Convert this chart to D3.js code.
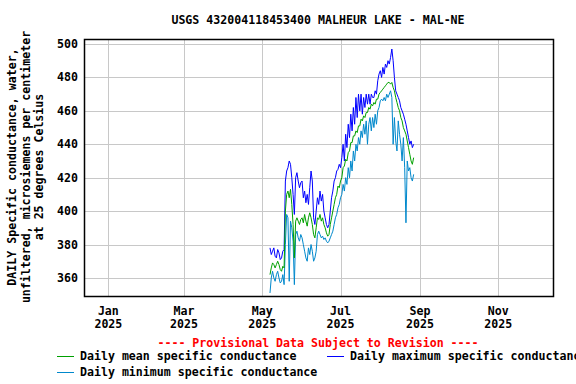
<!DOCTYPE html>
<html><head><meta charset="utf-8">
<script src="https://cdn.jsdelivr.net/npm/d3@7"></script>
<style>body{margin:0;background:#fff}svg{display:block}text{font-family:"DejaVu Sans Mono",monospace;font-weight:bold}</style>
</head><body><svg id="c" width="576" height="384"></svg>
<script>
const title = "USGS 432004118453400 MALHEUR LAKE - MAL-NE";
const yLabelLines = ["DAILY Specific conductance, water,", "unfiltered, microsiemens per centimeter", "at 25 degrees Celsius"];
const yTicks = [360, 380, 400, 420, 440, 460, 480, 500];
const xTickMonths = ["Jan", "Mar", "May", "Jul", "Sep", "Nov"];
const xTickYear = "2025";
const xTickDates = [[2025,0,1],[2025,2,1],[2025,4,1],[2025,6,1],[2025,8,1],[2025,10,1]];
const firstDay = [2025, 4, 7];
const meanVals = [362,366,369,368,366,368,370,368,365,364,367,366,
 400,410,412,408,413,404,392,372,394,396,394,392,395,
 396,393,398,394,391,396,399,396,392,386,384,390,396,395,398,394,
 396,392,390,387,385,386,392,396,400,404,
 408,410,415,414,418,420,426,427,431,430,
 435,436,441,441,445,445,448,447,451,451,
 455,454,457,456,459,459,462,461,464,463,465,464,467,467,470,
 471,472,473,474,475,476,477,477,476,477,474,472,468,465,462,460,456,454,450,448,446,442,438,434,430,428,432];
const maxVals = [378,374,376,378,373,372,377,375,371,372,376,377,
 418,424,426,430,428,420,410,398,420,423,418,414,417,
 418,408,412,405,410,404,414,424,418,396,392,400,408,404,412,406,
 410,400,396,392,390,392,400,408,412,418,
 420,424,425,428,426,432,440,430,446,438,
 452,444,458,448,462,452,468,456,470,460,
 470,458,468,462,470,464,470,464,470,468,468,472,470,478,482,
 484,480,486,482,488,486,490,488,492,497,490,480,472,470,468,466,462,460,458,455,452,448,444,440,442,438,440];
const minVals = [351,360,364,360,358,362,364,360,357,358,362,356,
 380,398,396,358,394,390,382,356,386,388,384,382,386,
 384,380,376,372,370,378,374,380,376,370,372,376,386,388,386,384,
 385,383,384,382,381,382,384,386,388,392,
 396,398,402,404,408,410,416,412,420,416,
 426,420,430,424,436,430,440,436,444,440,
 448,444,452,446,454,440,452,456,448,456,450,458,452,460,462,
 466,467,466,468,466,470,468,470,472,468,440,456,442,436,454,446,440,430,444,426,393,430,424,426,420,418,422];
const seriesNames = ["Daily mean specific conductance", "Daily maximum specific conductance", "Daily minimum specific conductance"];
const colors = {mean:"#00a000", max:"#0000ff", min:"#0088cc"};
const provisional = "---- Provisional Data Subject to Revision ----";

const FS = 11.6;
const svg = d3.select("#c");
svg.append("rect").attr("width",576).attr("height",384).attr("fill","#fff");
const L=84, R=554, T=39, B=296;
const x = d3.scaleUtc().domain([new Date(Date.UTC(2024,11,13)), new Date(Date.UTC(2025,11,14,10))]).range([L,R]);
const y = d3.scaleLinear().domain([349.2, 503]).range([B,T]);
const dates = meanVals.map((v,i)=>new Date(Date.UTC(firstDay[0], firstDay[1], firstDay[2]+i)));
const tickDates = xTickDates.map(d=>new Date(Date.UTC(d[0],d[1],d[2])));

// grid
const g = svg.append("g");
g.selectAll(".hg").data(yTicks).enter().append("line")
 .attr("x1",L).attr("x2",R).attr("y1",d=>Math.round(y(d))+0.5).attr("y2",d=>Math.round(y(d))+0.5)
 .attr("stroke","#c8c8c8").attr("stroke-width",1);
g.selectAll(".vg").data(tickDates).enter().append("line")
 .attr("y1",T).attr("y2",B).attr("x1",d=>Math.round(x(d))+0.5).attr("x2",d=>Math.round(x(d))+0.5)
 .attr("stroke","#c8c8c8").attr("stroke-width",1);

// lines
svg.append("clipPath").attr("id","clp").append("rect").attr("x",L).attr("y",T).attr("width",R-L).attr("height",B-T);
const line = d3.line().x((d,i)=>x(dates[i])).y(d=>y(d));
const plot = svg.append("g").attr("clip-path","url(#clp)");
[[maxVals,colors.max],[minVals,colors.min],[meanVals,colors.mean]].forEach(([vals,c])=>{
  plot.append("path").datum(vals).attr("d",line).attr("fill","none").attr("stroke",c).attr("stroke-width",1);
});

// frame
svg.append("rect").attr("x",L+0.5).attr("y",T+0.5).attr("width",R-L-1).attr("height",B-T)
 .attr("fill","none").attr("stroke","#000").attr("stroke-width",1.5);

// y tick labels
svg.selectAll(".yl").data(yTicks).enter().append("text")
 .attr("x",78).attr("y",d=>y(d)).attr("dy","0.35em").attr("text-anchor","end")
 .attr("font-size",FS).text(d=>d);
// x tick labels
tickDates.forEach((d,i)=>{
  svg.append("text").attr("x",x(d)).attr("y",311).attr("dy","0.35em").attr("text-anchor","middle").attr("font-size",FS).text(xTickMonths[i]);
  svg.append("text").attr("x",x(d)).attr("y",324).attr("dy","0.35em").attr("text-anchor","middle").attr("font-size",FS).text(xTickYear);
});
// title
svg.append("text").attr("x",318).attr("y",20).attr("dy","0.35em").attr("text-anchor","middle").attr("font-size",FS).text(title);
// y label
const yl = [12,26,39];
yLabelLines.forEach((t,i)=>{
  svg.append("text").attr("transform",`translate(${yl[i]},167) rotate(-90)`).attr("dy","0.35em")
   .attr("text-anchor","middle").attr("font-size",FS).text(t);
});
// provisional
svg.append("text").attr("x",318).attr("y",342.5).attr("dy","0.35em").attr("text-anchor","middle").attr("font-size",FS).attr("fill","#ff0000").text(provisional);
// legend
const leg = [[57,356,colors.mean,seriesNames[0]],[327,356,colors.max,seriesNames[1]],[57,372,colors.min,seriesNames[2]]];
leg.forEach(([lx,ly,c,t])=>{
  svg.append("line").attr("x1",lx).attr("x2",lx+17).attr("y1",ly+0.5).attr("y2",ly+0.5).attr("stroke",c).attr("stroke-width",1);
  svg.append("text").attr("x",lx+23).attr("y",ly).attr("dy","0.35em").attr("font-size",FS).text(t);
});
</script></body></html>
